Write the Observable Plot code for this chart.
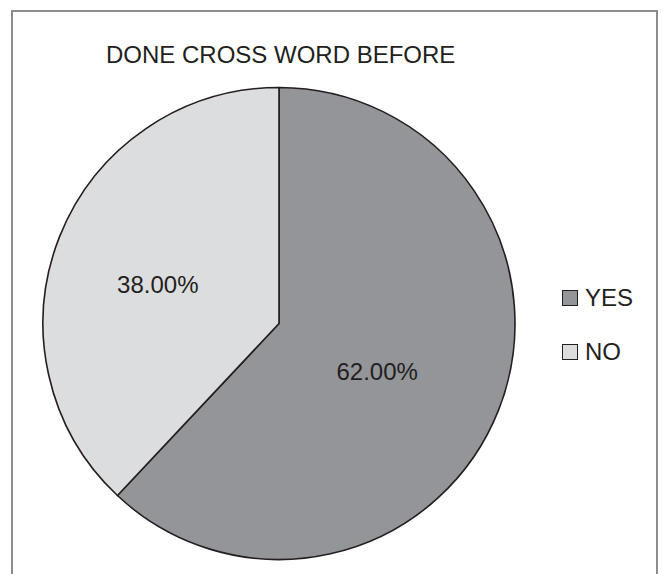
<!DOCTYPE html>
<html>
<head>
<meta charset="utf-8">
<script src="https://cdn.jsdelivr.net/npm/d3@7"></script>
<script src="https://cdn.jsdelivr.net/npm/@observablehq/plot@0.6"></script>
<style>
  html, body { margin: 0; padding: 0; background: #fff; }
  #wrap { position: relative; width: 663px; height: 574px; overflow: hidden; font-family: "Liberation Sans", Arial, sans-serif; color: #231f20; }
  #frame { position: absolute; left: 11px; top: 10px; width: 647px; height: 620px; border: 2px solid #8c8c8c; box-sizing: border-box; }
  #title { position: absolute; left: 106px; top: 43px; font-size: 24px; line-height: 24px; white-space: nowrap; }
  #chart { position: absolute; left: 0; top: 0; }
  .leg { position: absolute; left: 562px; font-size: 24px; line-height: 24px; white-space: nowrap; }
  .sw { display: inline-block; width: 14px; height: 14px; border: 1.5px solid #231f20; vertical-align: baseline; margin-right: 7px; position: relative; top: 0px; }
</style>
</head>
<body>
<div id="wrap">
  <div id="frame"></div>
  <div id="title"></div>
  <div id="chart"></div>
  <div id="legend"></div>
</div>
<script>
const title = "DONE CROSS WORD BEFORE";
const categories = ["YES", "NO"];
const values = [62, 38];
const labels = ["62.00%", "38.00%"];
const colors = ["#939598", "#dcdddf"];

document.getElementById("title").textContent = title;

const data = categories.map((c, i) => ({category: c, value: values[i], label: labels[i]}));
const arcs = d3.pie().sort(null).value(d => d.value)(data);
const labelRadius = 0.5;
const labelData = arcs.map(a => {
  const mid = (a.startAngle + a.endAngle) / 2;
  return {label: a.data.label, x: labelRadius * Math.sin(mid), y: labelRadius * Math.cos(mid)};
});

function pieMark(index, scales) {
  const x = scales.x, y = scales.y;
  const cx = x(0), cy = y(0);
  const r = x(1) - x(0);
  const arc = d3.arc().innerRadius(0).outerRadius(r);
  const g = d3.create("svg:g").attr("transform", `translate(${cx},${cy})`);
  g.selectAll("path").data(arcs).join("path")
    .attr("d", arc)
    .attr("fill", d => scales.color(d.data.category))
    .attr("stroke", "#231f20")
    .attr("stroke-width", 1.6)
    .attr("stroke-linejoin", "round");
  return g.node();
}

const plot = Plot.plot({
  width: 663,
  height: 574,
  margin: 0,
  style: {background: "transparent", overflow: "visible"},
  x: {domain: [-1, 1], range: [43, 515], axis: null},
  y: {domain: [-1, 1], range: [559.5, 87.5], axis: null},
  color: {domain: categories, range: colors},
  marks: [
    pieMark,
    Plot.text(labelData, {
      x: "x", y: "y", text: "label",
      dx: -12, dy: 5,
      fontSize: 24, fill: "#231f20",
      fontFamily: "Liberation Sans, Arial, sans-serif",
      textAnchor: "middle", lineAnchor: "middle"
    })
  ]
});
document.getElementById("chart").appendChild(plot);

const legend = document.getElementById("legend");
const legTops = [286, 340];
categories.forEach((c, i) => {
  const d = document.createElement("div");
  d.className = "leg";
  d.style.top = legTops[i] + "px";
  const sw = document.createElement("span");
  sw.className = "sw";
  sw.style.background = colors[i];
  d.appendChild(sw);
  d.appendChild(document.createTextNode(c));
  legend.appendChild(d);
});
</script>
</body>
</html>
